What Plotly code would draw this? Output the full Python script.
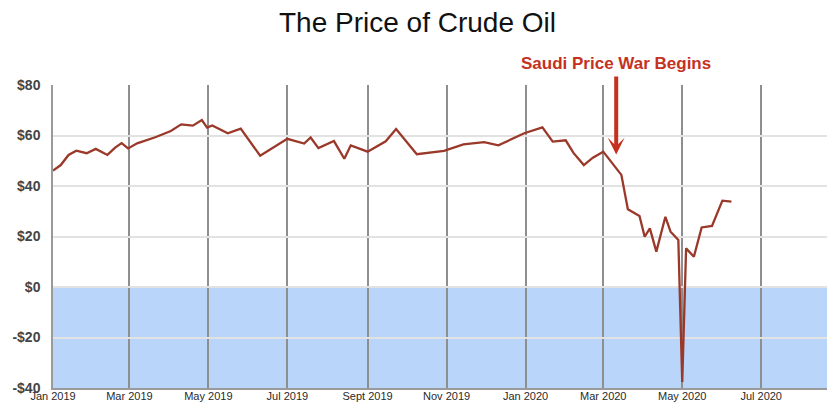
import plotly.graph_objects as go

# Data
dates = [
    "2019-01-01", "2019-01-07", "2019-01-13", "2019-01-19", "2019-01-27", "2019-02-03",
    "2019-02-12", "2019-02-18", "2019-02-23", "2019-02-28", "2019-03-07", "2019-03-21",
    "2019-04-02", "2019-04-10", "2019-04-19", "2019-04-26", "2019-04-30", "2019-05-04",
    "2019-05-16", "2019-05-26", "2019-06-10", "2019-07-01", "2019-07-14", "2019-07-19",
    "2019-07-25", "2019-08-06", "2019-08-14", "2019-08-19", "2019-09-01", "2019-09-15",
    "2019-09-23", "2019-10-09", "2019-10-30", "2019-11-14", "2019-11-30", "2019-12-11",
    "2019-12-31", "2020-01-14", "2020-01-22", "2020-02-01", "2020-02-07", "2020-02-15",
    "2020-02-22", "2020-03-01", "2020-03-15", "2020-03-20", "2020-03-29", "2020-04-02",
    "2020-04-06", "2020-04-11", "2020-04-18", "2020-04-22", "2020-04-28", "2020-05-01",
    "2020-05-04", "2020-05-10", "2020-05-16", "2020-05-24", "2020-06-01", "2020-06-08",
]
prices = [
    46.1, 48.3, 52.3, 54.0, 53.0, 54.7,
    52.3, 55.2, 57.0, 54.9, 56.9, 59.3,
    61.8, 64.4, 63.9, 66.1, 63.1, 64.0,
    60.9, 62.7, 52.0, 58.7, 56.8, 59.2,
    55.0, 57.8, 50.8, 56.1, 53.6, 57.7,
    62.6, 52.6, 53.9, 56.5, 57.4, 56.1,
    60.9, 63.2, 57.6, 58.1, 53.1, 48.3,
    51.2, 53.6, 44.4, 30.8, 28.1, 19.9,
    23.2, 14.0, 27.8, 21.9, 18.6, -37.6,
    15.3, 12.0, 23.6, 24.2, 34.2, 33.8,
]

x_tick_vals = ["2019-01-01", "2019-03-01", "2019-05-01", "2019-07-01", "2019-09-01",
               "2019-11-01", "2020-01-01", "2020-03-01", "2020-05-01", "2020-07-01"]
x_tick_text = ["Jan 2019", "Mar 2019", "May 2019", "Jul 2019", "Sept 2019",
               "Nov 2019", "Jan 2020", "Mar 2020", "May 2020", "Jul 2020"]
y_tick_vals = [-40, -20, 0, 20, 40, 60, 80]
y_tick_text = ["-$40", "-$20", "$0", "$20", "$40", "$60", "$80"]

event_date = "2020-03-11"
event_price = 52.5
event_label = "Saudi Price War Begins"

FONT = "Liberation Sans, Arial, Helvetica, sans-serif"

fig = go.Figure()
fig.add_trace(go.Scatter(
    x=dates, y=prices, mode="lines",
    line=dict(color="#9a3829", width=2.3),
    hoverinfo="x+y", showlegend=False,
))

fig.add_shape(type="rect", xref="paper", yref="y", x0=0, x1=1, y0=-40, y1=0,
              fillcolor="#b9d5fa", line=dict(width=0), layer="below")

fig.add_annotation(
    x=event_date, y=event_price, xref="x", yref="y",
    text=event_label, showarrow=True,
    ax=0, ay=-91,
    arrowhead=3, arrowwidth=4, arrowsize=0.7, arrowcolor="#c4321f",
    startstandoff=2,
    font=dict(family=FONT, size=17, color="#c4321f", weight="bold"),
)

# page body has an 8px margin; figure sized so the plot lands where the reference has it
fig.update_layout(
    width=827, height=395,
    margin=dict(l=45, r=0, t=77, b=15),
    paper_bgcolor="white", plot_bgcolor="white",
    title=dict(text="The Price of Crude Oil", x=0.5 - 4 / 827, xref="container", xanchor="center",
               y=1 - 14 / 395, yref="container", yanchor="middle",
               font=dict(family=FONT, size=28, color="#111111")),
    font=dict(family=FONT),
    showlegend=False,
)

fig.update_xaxes(
    type="date", range=["2019-01-01", "2020-08-27"],
    tickmode="array", tickvals=x_tick_vals, ticktext=x_tick_text,
    tickfont=dict(family=FONT, size=11, color="#2a2a2a"),
    ticklabelstandoff=-3,
    showgrid=True, gridcolor="#8e8e8e", gridwidth=1.5,
    showline=True, linecolor="#9a9a9a", linewidth=1.5,
    zeroline=False, ticks="", automargin=False,
)
fig.update_yaxes(
    range=[-40, 80], tickmode="array", tickvals=y_tick_vals, ticktext=y_tick_text,
    tickfont=dict(family=FONT, size=14, color="#444444", weight="bold"),
    showgrid=True, gridcolor="#e2e2e2", gridwidth=1.5,
    showline=True, linecolor="#9a9a9a", linewidth=1.5,
    zeroline=False, ticks="outside", ticklen=8, tickcolor="rgba(0,0,0,0)",
    automargin=False,
)

fig.write_html("out.html")
